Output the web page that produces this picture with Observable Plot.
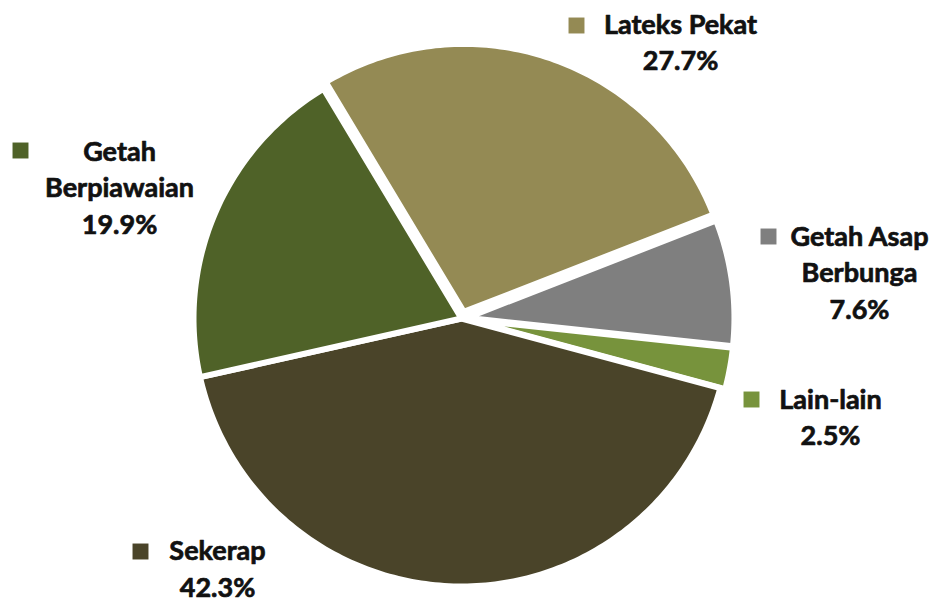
<!DOCTYPE html>
<html>
<head>
<meta charset="utf-8">
<script src="https://cdn.jsdelivr.net/npm/d3@7"></script>
<script src="https://cdn.jsdelivr.net/npm/@observablehq/plot@0.6"></script>
<style>
  html, body { margin: 0; padding: 0; background: #fff; }
  #chart svg { display: block; }
</style>
</head>
<body>
<div id="chart"></div>
<script>
// ---- Data ----
const categories = ["Lateks Pekat", "Getah Asap Berbunga", "Lain-lain", "Sekerap", "Getah Berpiawaian"];
const shares = [27.7, 7.6, 2.5, 42.3, 19.9];
const labelText = ["Lateks Pekat", "Getah Asap\nBerbunga", "Lain-lain", "Sekerap", "Getah\nBerpiawaian"];
const colors = ["#948A54", "#7F7F7F", "#77933C", "#4A4429", "#4F6228"];

// ---- Layout (pixel positions / styling, not data) ----
const W = 936, H = 603;
const cx = 461, cy = 318, R = 268;
const startDeg = -31;
const explode = [7, 5, 5, 0, 0];
const labelPos = [[680, 7.5], [859, 219.5], [830, 382.5], [217, 534], [119, 134.5]];
const keyPos = [[576, 25], [768, 236], [751, 399], [140, 551], [20, 150]];
const fontSize = 27;

// ---- Build slices with d3.pie ----
const pie = d3.pie().sort(null).value(d => d)
  .startAngle(startDeg * Math.PI / 180)
  .endAngle((startDeg + 360) * Math.PI / 180);
const arcs = pie(shares);

const slices = arcs.map((a, i) => {
  const mid = (a.startAngle + a.endAngle) / 2;
  const ox = cx + explode[i] * Math.sin(mid);
  const oy = cy - explode[i] * Math.cos(mid);
  const pts = [{x: ox, y: oy}];
  const n = Math.max(2, Math.ceil((a.endAngle - a.startAngle) * 180 / Math.PI));
  for (let k = 0; k <= n; k++) {
    const t = a.startAngle + (a.endAngle - a.startAngle) * k / n;
    pts.push({x: ox + R * Math.sin(t), y: oy - R * Math.cos(t)});
  }
  return {pts, color: colors[i]};
});

const labels = categories.map((c, i) => ({
  text: labelText[i] + "\n" + shares[i].toFixed(1) + "%",
  x: labelPos[i][0], y: labelPos[i][1]
}));
const keys = categories.map((c, i) => ({x: keyPos[i][0], y: keyPos[i][1], color: colors[i]}));

const chart = Plot.plot({
  width: W, height: H,
  margin: 0,
  x: {domain: [0, W], range: [0, W], axis: null},
  y: {domain: [0, H], range: [0, H], axis: null},
  style: {fontFamily: "Lato, 'Open Sans', sans-serif", background: "#fff"},
  marks: [
    ...slices.map(s => Plot.line(s.pts, {
      x: "x", y: "y", curve: "linear-closed",
      fill: s.color, stroke: "white", strokeWidth: 6, strokeLinejoin: "round"
    })),
    Plot.dot(keys, {x: "x", y: "y", symbol: "square", r: 9, fill: d => d.color, stroke: null}),
    Plot.text(labels, {
      x: "x", y: "y", text: "text", textAnchor: "middle", lineAnchor: "top",
      lineHeight: 36.5 / fontSize, fontSize, fontWeight: "bold",
      fill: "#111", stroke: "#111", strokeWidth: 0.7
    })
  ]
});
document.getElementById("chart").appendChild(chart);
</script>
</body>
</html>
